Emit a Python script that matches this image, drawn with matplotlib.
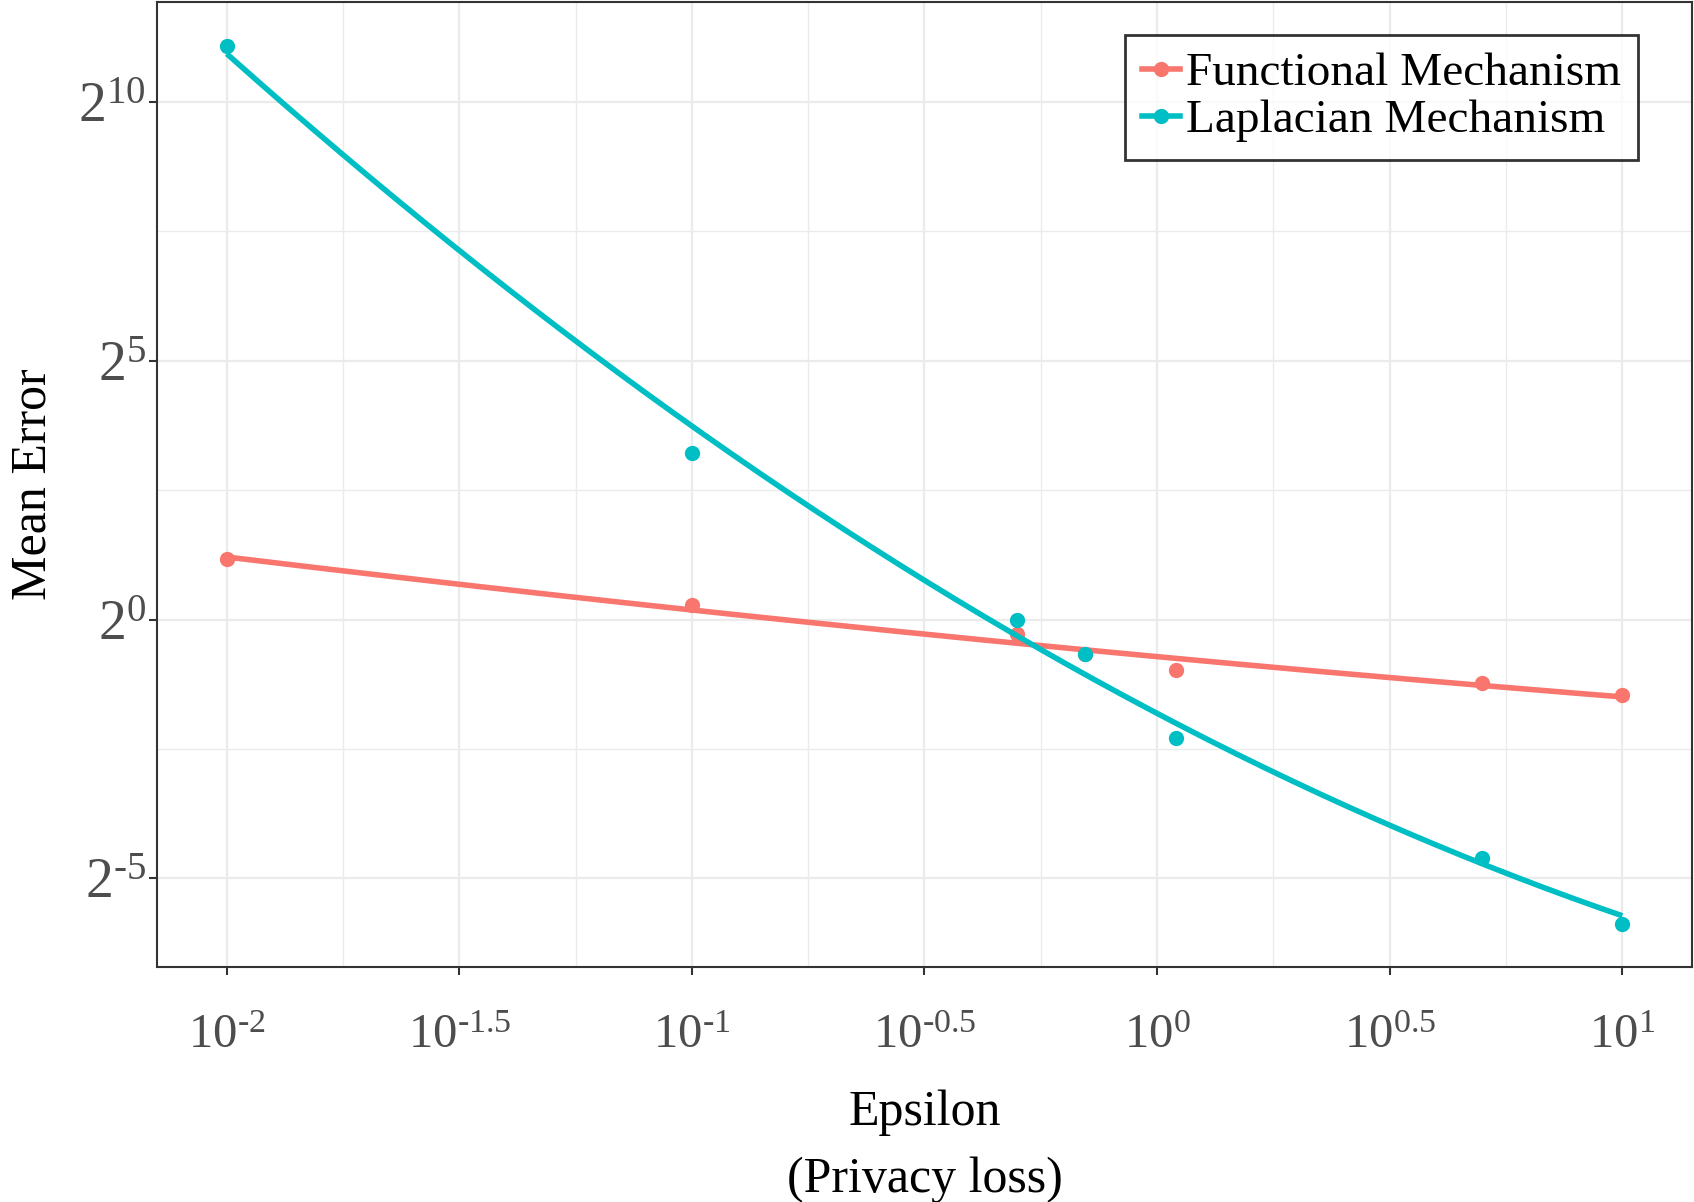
import numpy as np
import matplotlib
matplotlib.use("Agg")
import matplotlib.pyplot as plt
from matplotlib.lines import Line2D

plt.rcParams['font.family'] = ['Liberation Serif', 'DejaVu Serif']
plt.rcParams['mathtext.fontset'] = 'custom'
plt.rcParams['mathtext.rm'] = 'Liberation Serif'
plt.rcParams['mathtext.it'] = 'Liberation Serif:italic'
plt.rcParams['mathtext.bf'] = 'Liberation Serif:bold'

# ---- data ----
series_names = ["Functional Mechanism", "Laplacian Mechanism"]
epsilon = [0.01, 0.1, 0.5, 0.7, 1.1, 5.0, 10.0]
functional_error = [2.25, 1.21, 0.83, 0.63, 0.507, 0.426, 0.364]
laplacian_error = [2160.0, 9.25, 1.0, 0.63, 0.204, 0.0412, 0.0171]
x_tick_exps = ["-2", "-1.5", "-1", "-0.5", "0", "0.5", "1"]
y_tick_exps = ["-5", "0", "5", "10"]

colors = ["#F8766D", "#00BFC4"]

fig = plt.figure(figsize=(16.94, 12.02), dpi=100)
ax = fig.add_axes([157/1694, 1 - 967/1202, (1692-157)/1694, (967-2)/1202])

ax.set_xscale('log', base=10)
ax.set_yscale('log', base=2)

def smooth_fit(x, y, n=200):
    lx = np.log10(x)
    ly = np.log2(y)
    c = np.polyfit(lx, ly, 2)
    xs = np.linspace(lx.min(), lx.max(), n)
    return 10**xs, 2**np.polyval(c, xs)

LW = 4.0
MS = 11.0
for name, ys, col in zip(series_names, [functional_error, laplacian_error], colors):
    xs, fy = smooth_fit(np.array(epsilon), np.array(ys))
    ax.plot(xs, fy, color=col, lw=LW, solid_capstyle='butt', zorder=3)
    ax.plot(epsilon, ys, 'o', color=col, ms=MS, mec='none', zorder=3)

# limits (ggplot-like expansion)
ax.set_xlim(10**-2.15, 10**1.15)
ax.set_ylim(2**-6.71, 2**11.93)

def sup(e):
    return e.replace('-', r'\text{-}')

xt = [10**float(e) for e in x_tick_exps]
ax.set_xticks(xt)
ax.set_xticklabels([r"$10^{%s}$" % sup(e) for e in x_tick_exps])
yt = [2**float(e) for e in y_tick_exps]
ax.set_yticks(yt)
ax.set_yticklabels([r"$2^{%s}$" % sup(e) for e in y_tick_exps])

ax.xaxis.set_minor_locator(matplotlib.ticker.FixedLocator(
    [10**(float(a) + 0.25) for a in x_tick_exps[:-1]]))
ax.yaxis.set_minor_locator(matplotlib.ticker.FixedLocator(
    [2**(float(a) + 2.5) for a in y_tick_exps[:-1]]))
ax.xaxis.set_minor_formatter(matplotlib.ticker.NullFormatter())
ax.yaxis.set_minor_formatter(matplotlib.ticker.NullFormatter())

ax.grid(True, which='major', color='#EBEBEB', lw=1.6, zorder=0)
ax.grid(True, which='minor', color='#EBEBEB', lw=1.0, zorder=0)
ax.set_axisbelow(True)

ax.tick_params(axis='both', which='major', direction='out', length=6, width=1.5,
               color='#333333', labelcolor='#4D4D4D')
ax.tick_params(axis='x', which='major', pad=28, labelsize=35)
ax.tick_params(axis='y', which='major', pad=2, labelsize=40)
ax.tick_params(which='minor', length=0)

for s in ax.spines.values():
    s.set_color('#333333')
    s.set_linewidth(1.5)

ax.set_ylabel("Mean Error", fontsize=36, color='black')
ax.yaxis.set_label_coords((33 - 157) / 1535, 0.5)
ax.yaxis.label.set_va('center')
ax.set_xlabel("Epsilon", fontsize=36, color='black')
ax.xaxis.set_label_coords(0.5, (967 - 1113) / 965)
ax.xaxis.label.set_va('center')
fig.text((157+1692)/2/1694, 1 - 1180/1202, "(Privacy loss)", fontsize=36,
         ha='center', va='center', color='black')

handles = [Line2D([], [], color=c, lw=LW, marker='o', ms=MS, mec='none')
           for c in colors]
leg = ax.legend(handles, series_names, loc='upper right',
                bbox_to_anchor=(0.965, 0.966), fontsize=34, frameon=True,
                fancybox=False, edgecolor='black', handlelength=0.8,
                handletextpad=0.12, borderpad=0.37, labelspacing=0.08,
                borderaxespad=0, numpoints=1)
leg.get_frame().set_linewidth(2.0)
leg.set_zorder(10)

fig.savefig("out.png", dpi=100)
